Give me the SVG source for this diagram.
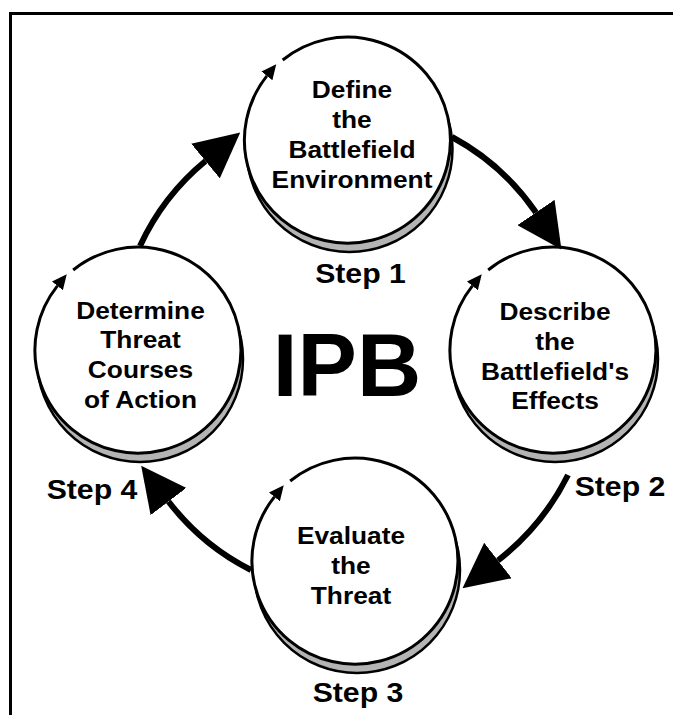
<svg xmlns="http://www.w3.org/2000/svg" width="673" height="715" viewBox="0 0 673 715">
  <style>
    .frame { fill: none; stroke: #000; stroke-width: 3; }
    .shadow { fill: #b4b4b4; stroke: #000; stroke-width: 2.5; }
    .face { fill: #fff; stroke: none; }
    .ring { fill: none; stroke: #000; stroke-width: 3; }
    .flow { fill: none; stroke: #000; stroke-width: 6; }
    .lbl { font-family: "Liberation Sans", Arial, sans-serif; font-weight: bold; font-size: 23.5px; text-anchor: middle; fill: #000; }
    .step { font-family: "Liberation Sans", Arial, sans-serif; font-weight: bold; font-size: 27px; text-anchor: middle; fill: #000; }
    .title { font-family: "Liberation Sans", Arial, sans-serif; font-weight: bold; font-size: 89px; text-anchor: middle; fill: #000; }
  </style>
  <defs>
    <marker id="tinyHead" markerUnits="userSpaceOnUse" viewBox="0 0 15 14" markerWidth="15" markerHeight="14" refX="0" refY="7" orient="auto">
      <path d="M0,0 L15,7 L0,14 Z" fill="#000"/>
    </marker>
    <marker id="bigHead" markerUnits="userSpaceOnUse" viewBox="0 0 45 45" markerWidth="45" markerHeight="45" refX="0" refY="22.5" orient="auto">
      <path d="M0,0 L45,22.5 L0,45 Z" fill="#000"/>
    </marker>
    <!-- one step disc: drop shadow, white face, open ring with a small clockwise arrow -->
    <g id="disc">
      <circle class="shadow" cx="2" cy="9" r="103"/>
      <circle class="face" r="103"/>
      <path class="ring" d="M-64.8,-80.0 A103,103 0 1 1 -80.6,-64.1" marker-end="url(#tinyHead)"/>
    </g>
  </defs>

  <!-- outer frame (open on the right and bottom) -->
  <path class="frame" d="M10.5,715 V13.5 H673"/>

  <text class="title" x="347" y="396">IPB</text>

  <g id="step1">
    <use href="#disc" x="347.5" y="140"/>
    <g transform="translate(352,0) scale(1.12,1)">
      <text class="lbl" x="0" y="98">Define</text>
      <text class="lbl" x="0" y="128.5">the</text>
      <text class="lbl" x="0" y="158.5">Battlefield</text>
      <text class="lbl" x="0" y="188">Environment</text>
    </g>
    <text class="step" transform="translate(360.5,283) scale(1.12,1)">Step 1</text>
  </g>

  <g id="step2">
    <use href="#disc" x="553" y="350"/>
    <g transform="translate(555,0) scale(1.12,1)">
      <text class="lbl" x="0" y="320.5">Describe</text>
      <text class="lbl" x="0" y="350">the</text>
      <text class="lbl" x="0" y="380">Battlefield's</text>
      <text class="lbl" x="0" y="409">Effects</text>
    </g>
    <text class="step" transform="translate(620,496) scale(1.12,1)">Step 2</text>
  </g>

  <g id="step3">
    <use href="#disc" x="355" y="561"/>
    <g transform="translate(351,0) scale(1.12,1)">
      <text class="lbl" x="0" y="544">Evaluate</text>
      <text class="lbl" x="0" y="574">the</text>
      <text class="lbl" x="0" y="604">Threat</text>
    </g>
    <text class="step" transform="translate(358,702) scale(1.12,1)">Step 3</text>
  </g>

  <g id="step4">
    <use href="#disc" x="138" y="350"/>
    <g transform="translate(140.5,0) scale(1.12,1)">
      <text class="lbl" x="0" y="319.3">Determine</text>
      <text class="lbl" x="0" y="348.3">Threat</text>
      <text class="lbl" x="0" y="378.3">Courses</text>
      <text class="lbl" x="0" y="408.3">of Action</text>
    </g>
    <text class="step" transform="translate(92,499) scale(1.12,1)">Step 4</text>
  </g>

  <!-- clockwise flow between the steps -->
  <g id="connectors">
    <path class="flow" d="M140,246 A240,240 0 0 1 205.5,161" marker-end="url(#bigHead)"/>
    <path class="flow" d="M452,137 A240,240 0 0 1 536,212.5" marker-end="url(#bigHead)"/>
    <path class="flow" d="M568,475 A250,250 0 0 1 498,560.5" marker-end="url(#bigHead)"/>
    <path class="flow" d="M251,570 A240,240 0 0 1 168.5,501.5" marker-end="url(#bigHead)"/>
  </g>
</svg>
